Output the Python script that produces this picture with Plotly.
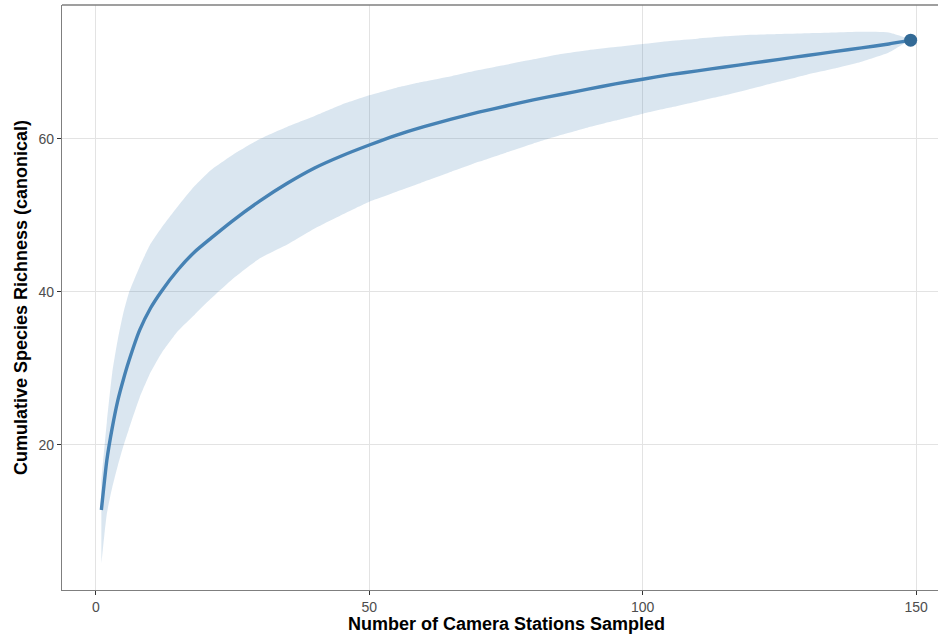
import plotly.graph_objects as go

# Rarefaction curve: cumulative species richness vs. number of camera stations
stations = [1, 2, 3, 4, 5, 6, 8, 10, 12, 15, 18, 21, 25, 30, 35, 40, 45, 50, 55, 60, 65, 70, 75,
            80, 85, 90, 95, 100, 105, 110, 115, 120, 125, 130, 135, 140, 145, 149]
richness = [11.5, 18.0, 22.3, 25.8, 28.5, 30.9, 35.0, 37.9, 40.1, 42.9, 45.2, 47.0, 49.3, 51.9,
            54.2, 56.2, 57.8, 59.2, 60.5, 61.6, 62.6, 63.5, 64.3, 65.1, 65.8, 66.5, 67.2, 67.8,
            68.4, 68.9, 69.4, 69.9, 70.4, 70.9, 71.4, 71.9, 72.4, 72.9]
upper = [15.5, 23.0, 29.5, 33.8, 37.2, 39.8, 43.3, 46.3, 48.4, 51.2, 53.8, 55.9, 57.9, 60.0,
         61.6, 63.0, 64.5, 65.7, 66.7, 67.5, 68.2, 69.0, 69.7, 70.4, 71.1, 71.6, 72.0, 72.4,
         72.8, 73.1, 73.4, 73.6, 73.7, 73.8, 73.9, 74.0, 73.9, 73.0]
lower = [4.5, 11.0, 14.5, 17.3, 19.8, 22.0, 26.2, 29.5, 32.0, 34.9, 37.0, 39.1, 41.7, 44.4,
         46.2, 48.3, 50.1, 51.8, 53.1, 54.4, 55.7, 57.0, 58.2, 59.4, 60.5, 61.5, 62.4, 63.3,
         64.1, 64.9, 65.7, 66.6, 67.5, 68.4, 69.2, 70.1, 71.3, 73.0]
x_ticks = [0, 50, 100, 150]
y_ticks = [20, 40, 60]

LINE = "#4682b4"
BAND = "rgba(70,130,180,0.2)"
POINT = "#336a96"
AXIS = "#7f7f7f"
GRID = "#e3e3e3"
FONT = "Liberation Sans, Arial, sans-serif"

fig = go.Figure()

# Confidence ribbon
fig.add_trace(go.Scatter(
    x=stations + stations[::-1],
    y=upper + lower[::-1],
    fill="toself", fillcolor=BAND,
    line=dict(width=0, shape="spline", smoothing=0.5),
    mode="lines", hoverinfo="skip", showlegend=False,
))

# Mean accumulation curve
fig.add_trace(go.Scatter(
    x=stations, y=richness, mode="lines",
    line=dict(color=LINE, width=3.4, shape="spline", smoothing=0.5),
    showlegend=False,
))

# Final observed richness
fig.add_trace(go.Scatter(
    x=[stations[-1]], y=[richness[-1]], mode="markers",
    marker=dict(color=POINT, size=13),
    showlegend=False,
))

axis_common = dict(
    showgrid=True, gridcolor=GRID, gridwidth=1,
    zeroline=False,
    showline=True, linecolor=AXIS, linewidth=1.3,
    ticks="outside", ticklen=4, tickcolor="#333333", tickwidth=1,
    tickfont=dict(family=FONT, size=14, color="#4d4d4d"),
)

fig.update_layout(
    width=938, height=634,
    margin=dict(l=62, r=0, t=5, b=44),
    plot_bgcolor="white", paper_bgcolor="white",
    font=dict(family=FONT),
    xaxis=dict(range=[-6.2, 154.0], tickvals=x_ticks, **axis_common),
    yaxis=dict(
        range=[1.05, 77.5], tickvals=y_ticks,
        title=dict(text="<b>Cumulative Species Richness (canonical)</b>",
                   font=dict(family=FONT, size=18, color="black"), standoff=6),
        **axis_common,
    ),
    shapes=[dict(type="line", xref="paper", yref="paper", x0=0, x1=1, y0=1, y1=1,
                 line=dict(color=AXIS, width=1.3))],
    annotations=[dict(
        text="<b>Number of Camera Stations Sampled</b>",
        xref="paper", yref="paper", x=0.507, y=0, yshift=-34,
        xanchor="center", yanchor="middle", showarrow=False,
        font=dict(family=FONT, size=18, color="black"),
    )],
)

fig.write_html("out.html")
